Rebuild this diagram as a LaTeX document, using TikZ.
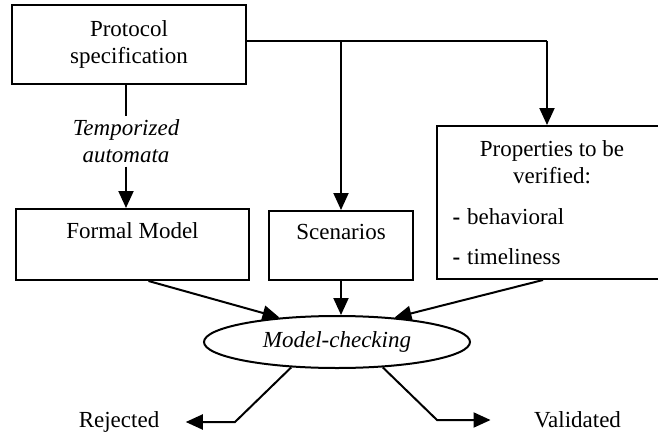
\documentclass[tikz,border=0pt]{standalone}
\usepackage{fontspec}
\setmainfont{Liberation Serif}
\usetikzlibrary{positioning,arrows.meta,shapes.geometric}

\begin{document}
\begin{tikzpicture}[x=1pt,y=-1pt,
  every node/.style={font=\fontsize{23}{27}\selectfont},
  box/.style={draw,line width=2pt,align=center,inner sep=0pt},
  line/.style={line width=2pt},
  link/.style={line width=2pt,-{Triangle[length=17pt,width=15pt]}}]
\useasboundingbox (0,0) rectangle (658,436);
% boxes
\node[box,minimum width=234pt,minimum height=79pt] (proto) at (129,44.5) {Protocol\\specification};
\node[align=center,font=\fontsize{23}{27}\selectfont\itshape] (temp) at (126,141.5) {Temporized\\automata};
\node[box,minimum width=233pt,minimum height=71pt] (formal) at (132.5,244.5) {Formal Model\\~};
\node[box,minimum width=144pt,minimum height=69pt] (scen) at (341,245.5) {Scenarios\\~};
\node[box,minimum width=230pt,minimum height=153pt] (props) at (552,202.5) {};
\node[align=center] (propt) at (552,162.5) {Properties to be\\verified:};
\node[anchor=west] (beh) at (449,217) {\textbf{-}\hspace{7pt}behavioral};
\node[anchor=west] (tim) at (449,257) {\textbf{-}\hspace{7pt}timeliness};
\node[ellipse,draw,line width=2pt,inner sep=0pt,minimum width=266pt,minimum height=52pt,
  font=\fontsize{23}{27}\selectfont\itshape] (model) at (337,342) {Model-checking};
\node (rej) at (119,422) {Rejected};
\node (val) at (577.5,420) {Validated};
% connectors
\coordinate (split) at (547,41);
\draw[line] (proto.east |- split) -- (split);
\draw[link] (scen.north |- split) -- (scen.north);
\draw[link] (split) -- (props.north -| split);
\draw[line] (proto.south -| temp) -- (temp.north);
\draw[link] (temp.south) -- (formal.north -| temp);
\draw[link] ([xshift=16pt]formal.south) -- (model.157);
\draw[link] (scen.south) -- (model.north -| scen);
\draw[link] ([xshift=-9pt]props.south) -- (model.23);
\draw[link] (model.209) -- (235,422) -- ([xshift=23pt]rej.east);
\draw[link] (model.331) -- (437,420) -- ([xshift=-40pt]val.west);
\end{tikzpicture}
\end{document}
